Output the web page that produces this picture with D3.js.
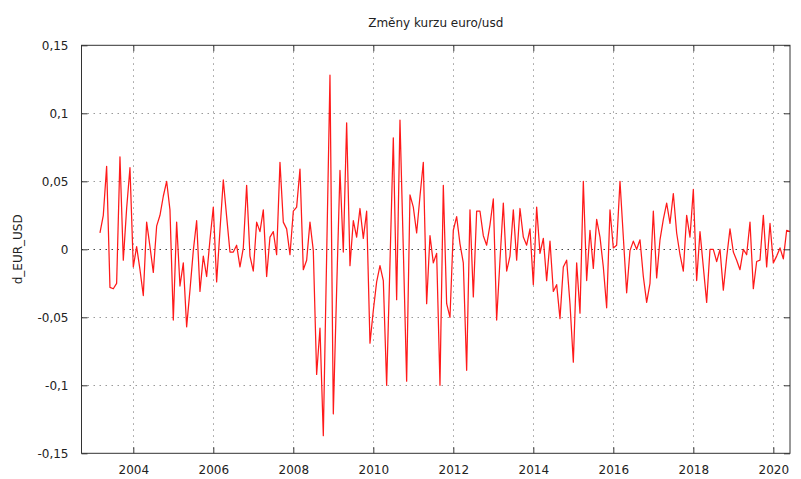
<!DOCTYPE html>
<html>
<head>
<meta charset="utf-8">
<script src="https://cdn.jsdelivr.net/npm/d3@7"></script>
<style>
  html, body { margin: 0; padding: 0; background: #fff; }
  svg { display: block; }
  text { font-family: "DejaVu Sans", Verdana, sans-serif; fill: #222; }
</style>
</head>
<body>
<svg id="chart" width="801" height="479"></svg>
<script>
// Monthly change of the EUR/USD exchange rate, 2003:03 – 2020:06
const startYear = 2003;
const startMonth = 3;
const dEurUsd = [
  0.012, 0.025, 0.061, -0.028, -0.029, -0.025, 0.068, -0.008, 0.030, 0.060,
  -0.013, 0.002, -0.015, -0.034, 0.020, 0.002, -0.017, 0.017, 0.025, 0.039,
  0.050, 0.029, -0.052, 0.020, -0.027, -0.010, -0.057, -0.030, -0.001, 0.021,
  -0.031, -0.005, -0.020, 0.007, 0.031, -0.024, 0.014, 0.051, 0.024, -0.002,
  -0.002, 0.003, -0.013, 0.001, 0.047, -0.005, -0.016, 0.020, 0.013, 0.029,
  -0.020, 0.009, 0.013, -0.004, 0.064, 0.020, 0.015, -0.004, 0.028, 0.031,
  0.059, -0.015, -0.008, 0.020, -0.001, -0.092, -0.058, -0.137, -0.005, 0.128,
  -0.121, -0.030, 0.058, -0.002, 0.093, -0.012, 0.021, 0.009, 0.030, 0.008,
  0.028, -0.069, -0.045, -0.024, -0.012, -0.023, -0.100, -0.010, 0.082, -0.037,
  0.095, 0.000, -0.097, 0.040, 0.031, 0.012, 0.039, 0.064, -0.040, 0.010,
  -0.010, -0.003, -0.100, 0.047, -0.040, -0.050, 0.014, 0.024, 0.004, -0.010,
  -0.089, 0.029, -0.035, 0.028, 0.028, 0.010, 0.003, 0.018, 0.037, -0.052,
  -0.008, 0.034, -0.016, -0.005, 0.029, -0.008, 0.030, 0.009, 0.003, 0.015,
  -0.026, 0.031, -0.003, 0.008, -0.023, 0.006, -0.031, -0.026, -0.051, -0.013,
  -0.008, -0.040, -0.083, -0.010, -0.047, 0.050, -0.023, 0.014, -0.014, 0.022,
  0.009, -0.013, -0.043, 0.029, 0.001, 0.003, 0.050, 0.009, -0.032, -0.001,
  0.006, 0.000, 0.007, -0.020, -0.039, -0.025, 0.028, -0.021, 0.007, 0.022,
  0.034, 0.019, 0.041, 0.012, -0.004, -0.016, 0.025, 0.009, 0.044, -0.023,
  0.013, -0.013, -0.039, 0.000, 0.000, -0.009, 0.000, -0.030, -0.006, 0.015,
  -0.002, -0.008, -0.015, 0.000, -0.004, 0.020, -0.029, -0.009, -0.008, 0.025,
  -0.013, 0.019, -0.010, -0.005, 0.001, -0.007, 0.014, 0.013
];
const xTickYears = [2004, 2006, 2008, 2010, 2012, 2014, 2016, 2018, 2020];
const yTickValues = [-0.15, -0.1, -0.05, 0, 0.05, 0.1, 0.15];
const yTickLabels = ["-0,15", "-0,1", "-0,05", "0", "0,05", "0,1", "0,15"];
const titleText = "Změny kurzu euro/usd";
const yLabelText = "d_EUR_USD";

// decimal-year time for each observation
const series = dEurUsd.map((v, i) => ({
  t: startYear + (startMonth - 1 + i) / 12,
  v: v
}));

const svg = d3.select("#chart");
const plot = { left: 81.5, right: 790, top: 45.3, bottom: 453.3 };

const x = d3.scaleLinear()
  .domain([2002.705, series[series.length - 1].t])
  .range([plot.left, plot.right]);
const y = d3.scaleLinear()
  .domain([-0.15, 0.15])
  .range([plot.bottom, plot.top]);

// grid
const grid = svg.append("g");
grid.selectAll("line.gx").data(xTickYears).join("line")
  .attr("x1", d => Math.round(x(d)) + 0.5).attr("x2", d => Math.round(x(d)) + 0.5)
  .attr("y1", plot.top).attr("y2", plot.bottom)
  .attr("stroke", "#9a9a9a").attr("stroke-width", 1)
  .attr("stroke-dasharray", "1.5,4.5");
grid.selectAll("line.gy").data(yTickValues.slice(1, -1)).join("line")
  .attr("x1", plot.left).attr("x2", plot.right)
  .attr("y1", d => Math.round(y(d)) + 0.5).attr("y2", d => Math.round(y(d)) + 0.5)
  .attr("stroke", d => d === 0 ? "#444" : "#9a9a9a").attr("stroke-width", 1)
  .attr("stroke-dasharray", "1.5,4.5");

// data line
svg.append("path")
  .datum(series)
  .attr("fill", "none")
  .attr("stroke", "#ff1a1a")
  .attr("stroke-width", 1.25)
  .attr("stroke-linejoin", "round")
  .attr("d", d3.line().x(d => x(d.t)).y(d => y(d.v)));

// axes: ticks mirrored on every side, pointing inward
const tickLen = 6;
const xb = svg.append("g").attr("transform", `translate(0,${plot.bottom})`)
  .call(d3.axisBottom(x).tickValues(xTickYears).tickSizeInner(-tickLen).tickSizeOuter(0)
    .tickPadding(12).tickFormat(d3.format("d")));
const xt = svg.append("g").attr("transform", `translate(0,${plot.top})`)
  .call(d3.axisTop(x).tickValues(xTickYears).tickSizeInner(-tickLen).tickSizeOuter(0)
    .tickFormat(""));
const yl = svg.append("g").attr("transform", `translate(${plot.left},0)`)
  .call(d3.axisLeft(y).tickValues(yTickValues).tickSizeInner(-tickLen).tickSizeOuter(0)
    .tickPadding(13).tickFormat((d, i) => yTickLabels[i]));
const yr = svg.append("g").attr("transform", `translate(${plot.right},0)`)
  .call(d3.axisRight(y).tickValues(yTickValues).tickSizeInner(-tickLen).tickSizeOuter(0)
    .tickFormat(""));

[xb, xt, yl, yr].forEach(g => {
  g.select(".domain").remove();
  g.selectAll(".tick line").attr("stroke", "#333");
  g.selectAll(".tick text")
    .attr("font-family", "'DejaVu Sans', Verdana, sans-serif")
    .attr("font-size", 12).attr("fill", "#222");
});

// frame
svg.append("rect")
  .attr("x", plot.left).attr("y", plot.top)
  .attr("width", plot.right - plot.left).attr("height", plot.bottom - plot.top)
  .attr("fill", "none").attr("stroke", "#333").attr("stroke-width", 1);

// title
svg.append("text")
  .attr("x", (plot.left + plot.right) / 2).attr("y", 27)
  .attr("text-anchor", "middle").attr("font-size", 12)
  .text(titleText);

// y-axis label
svg.append("text")
  .attr("transform", `translate(22,${(plot.top + plot.bottom) / 2}) rotate(-90)`)
  .attr("text-anchor", "middle").attr("font-size", 12)
  .text(yLabelText);
</script>
</body>
</html>
